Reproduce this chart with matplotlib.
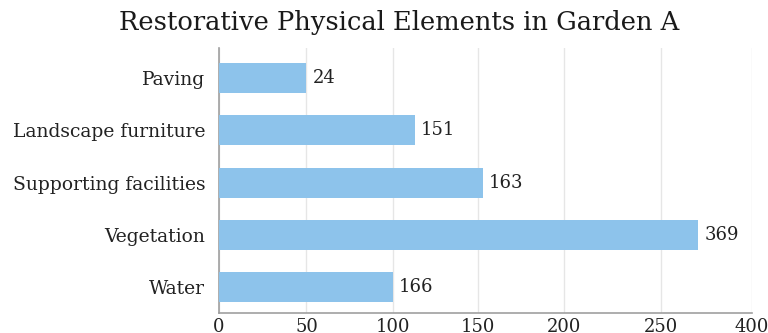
import numpy as np
import matplotlib
matplotlib.use("Agg")
import matplotlib.pyplot as plt

categories = ["Paving", "Landscape furniture", "Supporting facilities", "Vegetation", "Water"]
bar_lengths = [49.8, 113, 152.7, 311.5, 100]   # bar ends as read on the x axis
value_labels = ["24", "151", "163", "369", "166"]
tick_values = [0, 50, 100, 150, 200, 250, 400]
tick_labels = ["0", "50", "100", "150", "200", "250", "400"]
tick_positions = [0, 87.4, 173.4, 258.7, 344.7, 441.7, 532.7]  # uneven tick spacing of the axis

plt.rcParams["font.family"] = ["DejaVu Serif"]

fig = plt.figure(figsize=(7.68, 3.33), dpi=100)
ax = fig.add_axes([0.2852, 0.06, 0.694, 0.796])

tv = np.array(tick_values, dtype=float)
tp = np.array(tick_positions, dtype=float)
fwd = lambda x: np.interp(x, tv, tp)
inv = lambda y: np.interp(y, tp, tv)
ax.set_xscale("function", functions=(fwd, inv))

y = np.arange(len(categories))
ax.barh(y, bar_lengths, height=0.57, color="#8DC3EB", zorder=3)
for yi, L, lab in zip(y, bar_lengths, value_labels):
    ax.annotate(lab, (L, yi), xytext=(4.5, 0), textcoords="offset points",
                va="center", ha="left", fontsize=13, color="#222222")

ax.set_xlim(0, 400)
ax.set_ylim(4.49, -0.57)
ax.set_yticks(y)
ax.set_yticklabels(categories, fontsize=13.5, color="#222222")
ax.set_xticks(tick_values)
ax.set_xticklabels(tick_labels, fontsize=13, color="#222222")
ax.xaxis.set_minor_locator(matplotlib.ticker.NullLocator())
ax.tick_params(axis="both", length=0)
ax.tick_params(axis="y", pad=10)
ax.tick_params(axis="x", pad=3.5)
ax.grid(axis="x", color="#e6e6e6", linewidth=1, zorder=0)
for s in ["top", "right"]:
    ax.spines[s].set_visible(False)
for s in ["left", "bottom"]:
    ax.spines[s].set_color("#a0a0a0")
    ax.spines[s].set_linewidth(1.2)

fig.text(0.52, 0.932, "Restorative Physical Elements in Garden A", ha="center", va="center",
         fontsize=18.5, color="#1a1a1a")

fig.savefig("out.png", dpi=100)
